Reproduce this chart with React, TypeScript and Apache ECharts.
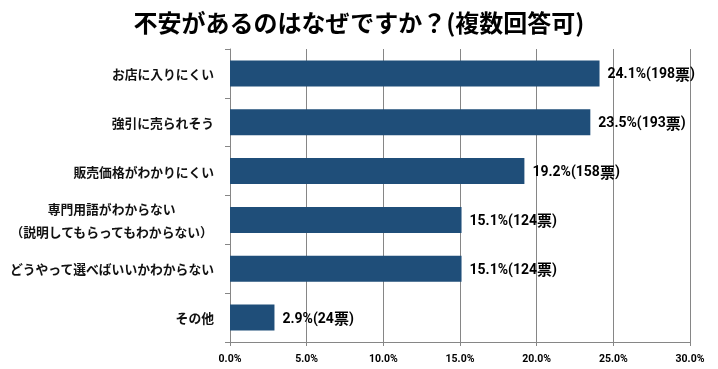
import React, { useEffect, useRef } from "react";
import * as echarts from "echarts";

const titleText = "不安があるのはなぜですか？(複数回答可)";
const categories = [
  "お店に入りにくい",
  "強引に売られそう",
  "販売価格がわかりにくい",
  "専門用語がわからない\n（説明してもらってもわからない）",
  "どうやって選べばいいかわからない",
  "その他",
];
const percents = [24.1, 23.5, 19.2, 15.1, 15.1, 2.9];
const votes = [198, 193, 158, 124, 124, 24];
const axisMax = 30;
const axisInterval = 5;

const JP = "'Noto Sans CJK JP', sans-serif";
const NUM = "Roboto, 'Noto Sans CJK JP', sans-serif";

export default function App() {
  const ref = useRef<HTMLDivElement>(null);
  useEffect(() => {
    if (!ref.current) return;
    const chart = echarts.init(ref.current, null, { renderer: "svg" });
    chart.setOption({
      animation: false,
      title: {
        text: titleText,
        left: "center",
        top: 4,
        textStyle: { fontFamily: JP, fontSize: 24, fontWeight: "bold", color: "#000" },
      },
      grid: { left: 230, right: 28, top: 49, bottom: 27, containLabel: false },
      xAxis: {
        type: "value",
        min: 0,
        max: axisMax,
        interval: axisInterval,
        axisLine: { show: true, lineStyle: { color: "#868686", width: 1 } },
        axisTick: { show: true, length: 4, lineStyle: { color: "#868686" } },
        splitLine: { show: true, lineStyle: { color: "#868686", width: 1 } },
        axisLabel: {
          margin: 11,
          fontFamily: NUM,
          fontSize: 10.5,
          fontWeight: "bold",
          color: "#000",
          formatter: (v: number) => v.toFixed(1) + "%",
        },
      },
      yAxis: {
        type: "category",
        inverse: true,
        data: categories,
        axisLine: { show: true, lineStyle: { color: "#868686", width: 1 } },
        axisTick: { show: true, length: 5, lineStyle: { color: "#868686" } },
        axisLabel: {
          margin: 16,
          fontFamily: JP,
          fontSize: 12.8,
          fontWeight: "bold",
          color: "#111",
          formatter: (v: string) => {
            if (v.indexOf("\n") >= 0) {
              return v
                .split("\n")
                .map((s) => "{c|" + s + "}")
                .join("\n");
            }
            return v;
          },
          rich: {
            c: {
              align: "center",
              fontFamily: JP,
              fontSize: 12.8,
              fontWeight: "bold",
              color: "#111",
              lineHeight: 23,
            },
          },
        },
      },
      series: [
        {
          type: "bar",
          data: percents,
          barWidth: 26,
          itemStyle: { color: "#1F4E79" },
          label: {
            show: true,
            position: "right",
            distance: 8,
            fontFamily: NUM,
            fontSize: 14,
            fontWeight: "bold",
            color: "#000",
            formatter: (p: any) =>
              p.value.toFixed(1) + "%(" + votes[p.dataIndex] + "{k|票})",
            rich: {
              k: { fontFamily: JP, fontSize: 15, fontWeight: "bold", color: "#000" },
            },
          },
        },
      ],
    });
    return () => chart.dispose();
  }, []);
  return <div ref={ref} style={{ width: 718, height: 369, position: "fixed", left: 0, top: 0 }} />;
}
